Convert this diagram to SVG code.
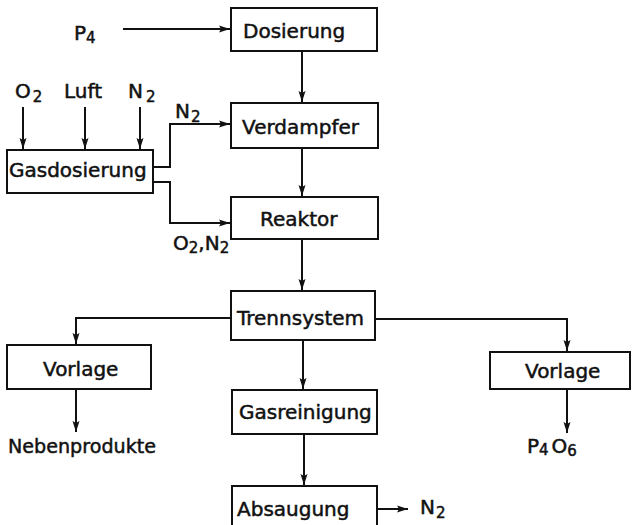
<svg xmlns="http://www.w3.org/2000/svg" width="632" height="525" viewBox="0 0 632 525">
<style>
rect.box{fill:#fff;stroke:#111;stroke-width:2}
.c{fill:none;stroke:#111;stroke-width:2}
text{font-family:"DejaVu Sans","Liberation Sans",sans-serif;font-size:20px;fill:#111;stroke:#111;stroke-width:0.5}
.sub{font-size:15px}
</style>
<defs>
<marker id="ah" markerUnits="userSpaceOnUse" markerWidth="12" markerHeight="10" viewBox="0 0 12 10" refX="11" refY="5" orient="auto">
<path d="M0,1.5 L11,5 L0,8.5 L2,5 Z" fill="#111"/>
</marker>
</defs>
<rect width="632" height="525" fill="#fff"/>
<g id="connectors">
<path class="c" d="M123,29 H230" marker-end="url(#ah)"/>
<path class="c" d="M302,51 V102" marker-end="url(#ah)"/>
<path class="c" d="M302,148 V196" marker-end="url(#ah)"/>
<path class="c" d="M302,239 V290" marker-end="url(#ah)"/>
<path class="c" d="M23,107 V149" marker-end="url(#ah)"/>
<path class="c" d="M85,107 V149" marker-end="url(#ah)"/>
<path class="c" d="M140,107 V149" marker-end="url(#ah)"/>
<path class="c" d="M153,167 H170 V124 H230" marker-end="url(#ah)"/>
<path class="c" d="M153,182 H170 V223 H230" marker-end="url(#ah)"/>
<path class="c" d="M231,318 H76 V344" marker-end="url(#ah)"/>
<path class="c" d="M375,319 H567 V351" marker-end="url(#ah)"/>
<path class="c" d="M303,340 V389" marker-end="url(#ah)"/>
<path class="c" d="M76,389 V432" marker-end="url(#ah)"/>
<path class="c" d="M567,389 V433" marker-end="url(#ah)"/>
<path class="c" d="M304,434 V485" marker-end="url(#ah)"/>
<path class="c" d="M377,509 H408" marker-end="url(#ah)"/>
</g>
<g id="dosierung"><rect class="box" x="231" y="8" width="146" height="43"/><text x="243" y="38">Dosierung</text></g>
<g id="verdampfer"><rect class="box" x="231" y="103" width="147" height="45"/><text x="242" y="134">Verdampfer</text></g>
<g id="reaktor"><rect class="box" x="231" y="197" width="147" height="42"/><text x="260" y="226">Reaktor</text></g>
<g id="gasdosierung"><rect class="box" x="7" y="150" width="146" height="43"/><text x="9" y="177">Gasdosierung</text></g>
<g id="trennsystem"><rect class="box" x="231" y="291" width="144" height="49"/><text x="237" y="325">Trennsystem</text></g>
<g id="vorlage-links"><rect class="box" x="7" y="345" width="144" height="44"/><text x="43" y="376">Vorlage</text></g>
<g id="vorlage-rechts"><rect class="box" x="490" y="352" width="140" height="37"/><text x="525" y="378">Vorlage</text></g>
<g id="gasreinigung"><rect class="box" x="232" y="390" width="145" height="44"/><text x="239" y="419">Gasreinigung</text></g>
<g id="absaugung"><rect class="box" x="232" y="486" width="145" height="45"/><text x="237" y="516">Absaugung</text></g>
<g id="labels">
<text x="74" y="40">P<tspan class="sub" dy="3">4</tspan></text>
<text x="15" y="98">O<tspan class="sub" dx="2" dy="4">2</tspan></text>
<text x="64" y="98">Luft</text>
<text x="128" y="98">N<tspan class="sub" dx="3" dy="4">2</tspan></text>
<text x="175" y="118">N<tspan class="sub" dx="1" dy="4">2</tspan></text>
<text x="173" y="250">O<tspan class="sub" dy="3">2</tspan><tspan dy="-3">,N</tspan><tspan class="sub" dy="3">2</tspan></text>
<text x="8" y="453" textLength="148" lengthAdjust="spacingAndGlyphs">Nebenprodukte</text>
<text x="527" y="453">P<tspan class="sub" dy="2">4</tspan><tspan dx="3" dy="-2">O</tspan><tspan class="sub" dy="3">6</tspan></text>
<text x="420" y="514">N<tspan class="sub" dx="1" dy="4">2</tspan></text>
</g>
</svg>
